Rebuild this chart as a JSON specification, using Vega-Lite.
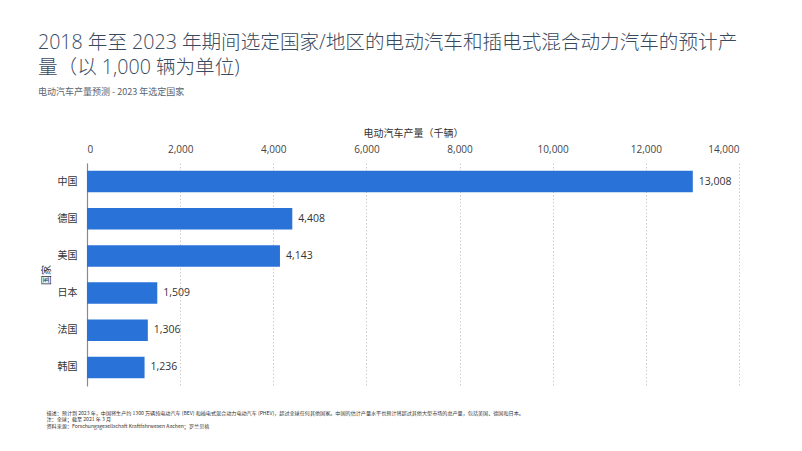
{
  "$schema": "https://vega.github.io/schema/vega-lite/v6.json",
  "width": 652,
  "height": 223,
  "autosize": {"type": "none"},
  "padding": {"left": 87, "top": 163, "right": 63, "bottom": 65},
  "background": "white",
  "title": {
    "text": ["2018 年至 2023 年期间选定国家/地区的电动汽车和插电式混合动力汽车的预计产", "量（以 1,000 辆为单位)"],
    "subtitle": "电动汽车产量预测 - 2023 年选定国家",
    "anchor": "start",
    "frame": "group",
    "dx": -49,
    "offset": 30,
    "font": "Open Sans, Noto Sans CJK SC",
    "fontSize": 19.6,
    "fontWeight": 300,
    "lineHeight": 25,
    "color": "#3a4a5e",
    "subtitleFont": "Noto Sans CJK SC",
    "subtitleFontSize": 9,
    "subtitleColor": "#5a6370",
    "subtitlePadding": 9
  },
  "data": {
    "values": [
      {"country": "中国", "value": 13008},
      {"country": "德国", "value": 4408},
      {"country": "美国", "value": 4143},
      {"country": "日本", "value": 1509},
      {"country": "法国", "value": 1306},
      {"country": "韩国", "value": 1236}
    ]
  },
  "encoding": {
    "y": {
      "field": "country",
      "type": "nominal",
      "sort": null,
      "scale": {"paddingInner": 0.42, "paddingOuter": 0.21},
      "axis": {
        "title": "国家",
        "titleFont": "Noto Sans CJK SC",
        "titleFontSize": 10,
        "titleFontWeight": "normal",
        "titleColor": "#333333",
        "titlePadding": 6,
        "labelFont": "Noto Sans CJK SC",
        "labelFontSize": 10,
        "labelColor": "#333333",
        "labelPadding": 10,
        "ticks": false,
        "domain": true,
        "domainColor": "#8a8a8a",
        "domainWidth": 1.2,
        "grid": false
      }
    }
  },
  "layer": [
    {
      "mark": {"type": "bar", "color": "#2872d8"},
      "encoding": {
        "x": {
          "field": "value",
          "type": "quantitative",
          "scale": {"domain": [0, 14000], "nice": false},
          "axis": {
            "orient": "top",
            "title": "电动汽车产量（千辆）",
            "titleFont": "Noto Sans CJK SC",
            "titleFontSize": 10,
            "titleFontWeight": "normal",
            "titleColor": "#333333",
            "titlePadding": 6,
            "labelFont": "Open Sans",
            "labelFontSize": 10,
            "labelColor": "#444444",
            "labelPadding": 9,
            "labelOverlap": false,
            "format": ",.0f",
            "values": [0, 2000, 4000, 6000, 8000, 10000, 12000, 14000],
            "ticks": false,
            "domain": false,
            "grid": true,
            "gridColor": "#cccccc",
            "gridDash": [1.5, 2],
            "gridWidth": 1
          }
        }
      }
    },
    {
      "mark": {"type": "text", "align": "left", "baseline": "middle", "dx": 6, "font": "Open Sans", "fontSize": 10.5, "color": "#333333"},
      "encoding": {
        "x": {
          "field": "value",
          "type": "quantitative",
          "axis": {
            "orient": "bottom",
            "title": [
              "描述：预计到 2023 年，中国将生产约 1300 万辆纯电动汽车 (BEV) 和插电式混合动力电动汽车 (PHEV)，超过全球任何其他国家。中国的估计产量水平也预计将超过其他大型市场的总产量，包括美国、德国和日本。",
              "注：全球；截至 2021 年 3 月",
              "资料来源：Forschungsgesellschaft Kraftfahrwesen Aachen；罗兰贝格"
            ],
            "titleFont": "Noto Sans CJK SC",
            "titleFontSize": 5.1,
            "titleFontWeight": "normal",
            "titleColor": "#333333",
            "titleLineHeight": 6.8,
            "titleAnchor": "start",
            "titleAlign": "left",
            "titleBaseline": "top",
            "titleX": -41,
            "titleY": 24,
            "labels": false,
            "ticks": false,
            "domain": false,
            "grid": false
          }
        },
        "text": {"field": "value", "type": "quantitative", "format": ","}
      }
    }
  ],
  "resolve": {"axis": {"x": "independent"}},
  "config": {"view": {"stroke": null}}
}
